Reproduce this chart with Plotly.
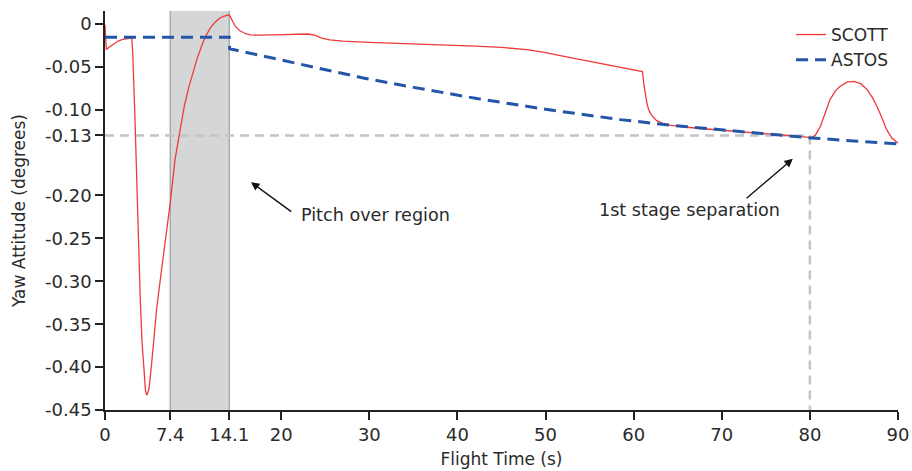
import plotly.graph_objects as go

# ---- data ----
scott_t = [0, 0.15, 0.5, 1.0, 1.5, 2.0, 2.5, 3.0, 3.05, 3.15, 3.4, 3.7, 4.0, 4.2, 4.4, 4.6, 4.75,
           5.0, 5.3, 5.6, 5.86, 6.5, 7.0, 7.4, 7.95, 8.5, 9.0, 9.5, 10.0, 10.5, 11.0, 11.35, 12.0,
           12.5, 13.0, 13.5, 14.1, 14.4, 14.8, 15.3, 16.0, 16.5, 17.5, 19, 21, 23, 23.8, 24.6, 25.5,
           27, 30, 35, 38, 42, 45, 47.9, 50, 53.1, 56, 58.5, 61.0, 61.15, 61.3, 61.5, 61.7, 62.0,
           62.6, 63.3, 64.1, 66, 70, 74, 78, 80.2, 80.6, 81.2, 81.8, 82.3, 82.9, 83.4, 84.2, 85.0,
           85.8, 86.5, 87.1, 87.6, 88.2, 88.7, 89.3, 89.9, 90]
scott_yaw = [-0.001, -0.030, -0.027, -0.023, -0.020, -0.018, -0.0172, -0.0167, -0.018, -0.035, -0.11,
             -0.22, -0.32, -0.37, -0.405, -0.428, -0.433, -0.425, -0.395, -0.36, -0.332, -0.28, -0.24,
             -0.209, -0.158, -0.123, -0.096, -0.074, -0.055, -0.039, -0.025, -0.0155, -0.004, 0.002,
             0.0065, 0.009, 0.0105, 0.004, -0.003, -0.008, -0.0115, -0.0128, -0.0132, -0.0128,
             -0.0122, -0.0118, -0.013, -0.0165, -0.0186, -0.020, -0.0215, -0.023, -0.0244, -0.026,
             -0.0275, -0.030, -0.0335, -0.040, -0.046, -0.051, -0.0555, -0.07, -0.080, -0.092, -0.100,
             -0.106, -0.1128, -0.116, -0.118, -0.1205, -0.124, -0.127, -0.1305, -0.1326, -0.130,
             -0.1194, -0.102, -0.088, -0.078, -0.073, -0.068, -0.067, -0.070, -0.0767, -0.086, -0.096,
             -0.110, -0.123, -0.133, -0.1387, -0.139]

astos_t = [0, 14.1, 14.15, 20, 25, 29.3, 35, 42.2, 50, 56.2, 58.5, 64.1, 70, 74, 80.2, 85, 90]
astos_yaw = [-0.0155, -0.0155, -0.029, -0.042, -0.054, -0.063, -0.074, -0.087, -0.0995, -0.1085,
             -0.1116, -0.118, -0.1235, -0.127, -0.133, -0.1365, -0.1397]

x_tickvals = [0, 7.4, 14.1, 20, 30, 40, 50, 60, 70, 80, 90]
x_ticktext = ["0", "7.4", "14.1", "20", "30", "40", "50", "60", "70", "80", "90"]
y_tickvals = [0, -0.05, -0.10, -0.13, -0.20, -0.25, -0.30, -0.35, -0.40, -0.45]
y_ticktext = ["0", "-0.05", "-0.10", "-0.13", "-0.20", "-0.25", "-0.30", "-0.35", "-0.40", "-0.45"]

pitch_start, pitch_end = 7.4, 14.1
sep_time, sep_yaw = 80, -0.13
y_min, y_max = -0.45, 0.015
x_min, x_max = 0, 90

FONT = "DejaVu Sans"
TXT = "#2a2a2a"

fig = go.Figure()

# reference dashed lines (separation)
fig.add_trace(go.Scatter(x=[x_min, sep_time], y=[sep_yaw, sep_yaw], mode="lines",
                         line=dict(color="#c4c4c4", width=2.5, dash="9px,6px"),
                         showlegend=False, hoverinfo="skip"))
fig.add_trace(go.Scatter(x=[sep_time, sep_time], y=[sep_yaw, y_min], mode="lines",
                         line=dict(color="#c4c4c4", width=2.5, dash="9px,6px"),
                         showlegend=False, hoverinfo="skip"))

fig.add_trace(go.Scatter(x=scott_t, y=scott_yaw, mode="lines", name="SCOTT",
                         line=dict(color="#f03a3a", width=1.3)))
fig.add_trace(go.Scatter(x=astos_t, y=astos_yaw, mode="lines", name="ASTOS",
                         line=dict(color="#2456a8", width=3, dash="12px,7px")))

# pitch over shaded region
fig.add_shape(type="rect", xref="x", yref="y", x0=pitch_start, x1=pitch_end, y0=y_min, y1=y_max,
              fillcolor="#d5d6d8", line=dict(width=0), layer="below")
for xv in (pitch_start, pitch_end):
    fig.add_shape(type="line", xref="x", yref="y", x0=xv, x1=xv, y0=y_min, y1=y_max,
                  line=dict(color="#9c9c9c", width=1.2), layer="below")

# annotations
fig.add_annotation(x=16.57, y=-0.1845, ax=21.31, ay=-0.2201, axref="x", ayref="y",
                   text="", showarrow=True, arrowhead=2, arrowsize=1.2, arrowwidth=1.4,
                   arrowcolor="#111")
fig.add_annotation(x=22.0, y=-0.2233, text="Pitch over region", showarrow=False,
                   xanchor="left", yanchor="middle", font=dict(family=FONT, size=17.6, color=TXT))
fig.add_annotation(x=78.06, y=-0.1573, ax=72.64, ay=-0.2047, axref="x", ayref="y",
                   text="", showarrow=True, arrowhead=2, arrowsize=1.2, arrowwidth=1.4,
                   arrowcolor="#111")
fig.add_annotation(x=66.35, y=-0.2174, text="1st stage separation", showarrow=False,
                   xanchor="center", yanchor="middle", font=dict(family=FONT, size=17.6, color=TXT))

fig.update_layout(
    width=912, height=471,
    margin=dict(l=105, r=14, t=11, b=61, autoexpand=False),
    paper_bgcolor="white", plot_bgcolor="white",
    font=dict(family=FONT, size=17, color=TXT),
    legend=dict(x=0.995, y=0.985, xanchor="right", yanchor="top", bgcolor="rgba(0,0,0,0)",
                font=dict(family=FONT, size=17, color=TXT), tracegroupgap=0),
    xaxis=dict(range=[x_min, x_max], tickvals=x_tickvals, ticktext=x_ticktext, automargin=False,
               showgrid=False, zeroline=False, showline=True, linecolor="#222", linewidth=1.5,
               ticks="outside", ticklen=8, tickwidth=1.5, tickcolor="#222",
               tickfont=dict(family=FONT, size=18, color=TXT),
               title=dict(text="Flight Time (s)", font=dict(family=FONT, size=17, color=TXT), standoff=9)),
    yaxis=dict(range=[y_min, y_max], tickvals=y_tickvals, ticktext=y_ticktext, automargin=False,
               showgrid=False, zeroline=False, showline=True, linecolor="#222", linewidth=1.5,
               ticks="outside", ticklen=8, tickwidth=1.5, tickcolor="#222",
               tickfont=dict(family=FONT, size=18, color=TXT),
               title=dict(text="Yaw Attitude (degrees)", font=dict(family=FONT, size=17, color=TXT), standoff=15)),
)

fig.write_html("out.html")
